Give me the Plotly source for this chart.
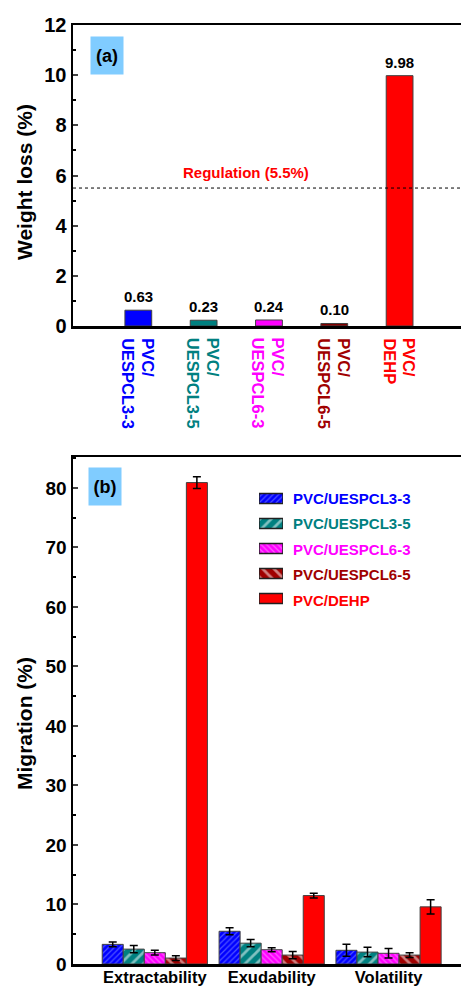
import plotly.graph_objects as go

# ---------------- data ----------------
samples = ["PVC/UESPCL3-3", "PVC/UESPCL3-5", "PVC/UESPCL6-3", "PVC/UESPCL6-5", "PVC/DEHP"]
sample_lines = [("PVC/", "UESPCL3-3"), ("PVC/", "UESPCL3-5"), ("PVC/", "UESPCL6-3"),
                ("PVC/", "UESPCL6-5"), ("PVC/", "DEHP")]
weight_loss = [0.63, 0.23, 0.24, 0.10, 9.98]
regulation = 5.5

tests = ["Extractability", "Exudability", "Volatility"]
mig_33 = [3.3, 5.5, 2.3]
mig_35 = [2.5, 3.5, 2.0]
mig_63 = [1.9, 2.4, 1.8]
mig_65 = [1.0, 1.5, 1.5]
mig_dehp = [80.9, 11.5, 9.6]
err_33 = [0.4, 0.6, 1.0]
err_35 = [0.6, 0.6, 0.8]
err_63 = [0.4, 0.35, 0.8]
err_65 = [0.4, 0.6, 0.4]
err_dehp = [1.0, 0.4, 1.2]

colors = ["#0000FF", "#008080", "#FF00FF", "#A00000", "#FF0000"]
patterns = [
    dict(shape="/", fgcolor="#9DA8FF", bgcolor="#0000FF", size=4, solidity=0.3),
    dict(shape="/", fgcolor="#FFFFFF", bgcolor="#008080", size=8, solidity=0.35),
    dict(shape="\\", fgcolor="#FFC0FF", bgcolor="#FF00FF", size=4, solidity=0.3),
    dict(shape="\\", fgcolor="#FFFFFF", bgcolor="#A00000", size=8, solidity=0.35),
    dict(shape="", fgcolor="#FF0000", bgcolor="#FF0000"),
]

W, H = 461, 988
FONT = "Liberation Sans, Arial, sans-serif"


def py(pix):
    return 1 - pix / H


def px(pix):
    return pix / W


fig = go.Figure()

# ---------------- panel (a) ----------------
fig.add_trace(go.Bar(
    x=samples, y=weight_loss, xaxis="x", yaxis="y", width=0.41,
    marker=dict(color=["#0000FF", "#008080", "#FF00FF", "#800000", "#FF0000"],
                line=dict(color="#404040", width=1)),
    showlegend=False, hoverinfo="skip"))

# ---------------- panel (b) ----------------
mig_series = [mig_33, mig_35, mig_63, mig_65, mig_dehp]
err_series = [err_33, err_35, err_63, err_65, err_dehp]
for i, name in enumerate(samples):
    fig.add_trace(go.Bar(
        x=tests, y=mig_series[i], name=name, xaxis="x2", yaxis="y2",
        marker=dict(color=colors[i], pattern=patterns[i],
                    line=dict(color="#404040", width=1)),
        error_y=dict(type="data", array=err_series[i], color="black",
                     thickness=1.5, width=4),
        showlegend=False, hoverinfo="skip"))

# custom legend swatches
for i, name in enumerate(samples):
    fig.add_trace(go.Bar(
        y=[i], x=[1], orientation="h", xaxis="x3", yaxis="y3", width=0.4,
        marker=dict(color=colors[i], pattern=patterns[i],
                    line=dict(color="#202020", width=1.5)),
        showlegend=False, hoverinfo="skip"))

axis_common = dict(showline=True, linecolor="black", zeroline=False,
                   showgrid=False, fixedrange=True, automargin=False)

fig.update_layout(
    width=W, height=H,
    margin=dict(l=0, r=0, t=0, b=0, pad=0, autoexpand=False),
    paper_bgcolor="white", plot_bgcolor="white",
    font=dict(family=FONT, color="black"),
    barmode="group", bargap=0.1, bargroupgap=0,
    xaxis=dict(domain=[px(73), 1], anchor="y", type="category",
               range=[-1, 4.94], mirror=True, linewidth=2.5,
               showticklabels=False, ticks="", **axis_common),
    yaxis=dict(domain=[py(326), py(25)], anchor="x", range=[0, 12],
               tickvals=[0, 2, 4, 6, 8, 10, 12], ticks="inside", ticklen=5,
               tickwidth=2, linewidth=2.5,
               minor=dict(dtick=1, ticks="inside", ticklen=3, tickwidth=2,
                          tickcolor="black"),
               tickfont=dict(size=20, family=FONT, weight="bold"),
               **axis_common),
    xaxis2=dict(domain=[px(73), 1], anchor="y2", type="category",
                range=[-0.7, 2.62], mirror=True, linewidth=2.5, ticks="",
                ticklabelstandoff=-3,
                tickfont=dict(size=16.5, family=FONT, weight="bold"),
                **axis_common),
    yaxis2=dict(domain=[py(964), py(457)], anchor="x2", range=[0, 85.2],
                tickvals=[0, 10, 20, 30, 40, 50, 60, 70, 80], ticks="inside",
                ticklen=5, tickwidth=2, linewidth=2.5,
                minor=dict(dtick=5, ticks="inside", ticklen=3, tickwidth=2,
                           tickcolor="black"),
                tickfont=dict(size=19, family=FONT, weight="bold"),
                **axis_common),
    xaxis3=dict(domain=[px(259), px(283)], anchor="y3", range=[0, 1],
                visible=False, fixedrange=True, automargin=False),
    yaxis3=dict(domain=[py(611), py(486)], anchor="x3", range=[4.5, -0.5],
                visible=False, fixedrange=True, automargin=False),
)

ann = []
# axis titles
ann.append(dict(text="<b>Weight loss (%)</b>", x=px(24), y=py(182), xref="paper",
                yref="paper", xanchor="center", yanchor="middle", textangle=-90,
                showarrow=False, font=dict(size=21, family=FONT, color="black")))
ann.append(dict(text="<b>Migration (%)</b>", x=px(24), y=py(724), xref="paper",
                yref="paper", xanchor="center", yanchor="middle", textangle=-90,
                showarrow=False, font=dict(size=21, family=FONT, color="black")))
# panel labels
for lab, x0, y0 in [("(a)", 90, 36), ("(b)", 88, 467)]:
    ann.append(dict(text=f"<b>{lab}</b>", x=px(x0), y=py(y0), xref="paper",
                    yref="paper", xanchor="left", yanchor="top", showarrow=False,
                    bgcolor="#80CCFF", width=32, height=37, borderpad=0,
                    font=dict(size=18, family=FONT, color="black")))
# regulation label
ann.append(dict(text="<b>Regulation (5.5%)</b>", x=px(246), y=regulation,
                xref="paper", yref="y", xanchor="center", yanchor="bottom",
                yshift=5, showarrow=False,
                font=dict(size=15, family=FONT, color="#FF0000")))
# value labels
for s, v in zip(samples, weight_loss):
    ann.append(dict(text=f"<b>{v:.2f}</b>", x=s, y=v, xref="x", yref="y",
                    xanchor="center", yanchor="bottom", yshift=3, showarrow=False,
                    font=dict(size=15, family=FONT, color="black")))
# rotated coloured category labels
for s, (l1, l2), c in zip(samples, sample_lines, colors):
    ann.append(dict(text=f"<b>{l1}</b>", x=s, y=py(336), xref="x", yref="paper",
                    xanchor="center", yanchor="top", xshift=10, textangle=90,
                    showarrow=False, font=dict(size=16.5, family=FONT, color=c)))
    ann.append(dict(text=f"<b>{l2}</b>", x=s, y=py(336), xref="x", yref="paper",
                    xanchor="center", yanchor="top", xshift=-10, textangle=90,
                    showarrow=False, font=dict(size=16.5, family=FONT, color=c)))
# legend text
for i, (s, c) in enumerate(zip(samples, colors)):
    ann.append(dict(text=f"<b>{s}</b>", x=px(291), y=py(498 + 25.5 * i),
                    xref="paper", yref="paper", xanchor="left", yanchor="middle",
                    showarrow=False, font=dict(size=15, family=FONT, color=c)))

fig.update_layout(annotations=ann)

# regulation dotted line
fig.add_shape(type="line", xref="x domain", yref="y", x0=0, x1=1,
              y0=regulation, y1=regulation,
              line=dict(color="black", width=1, dash="dot"))

fig.write_html("out.html",
               config={"displayModeBar": False, "staticPlot": True},
               post_script="document.body.style.margin='0px';"
                           "document.body.style.overflow='hidden';")
